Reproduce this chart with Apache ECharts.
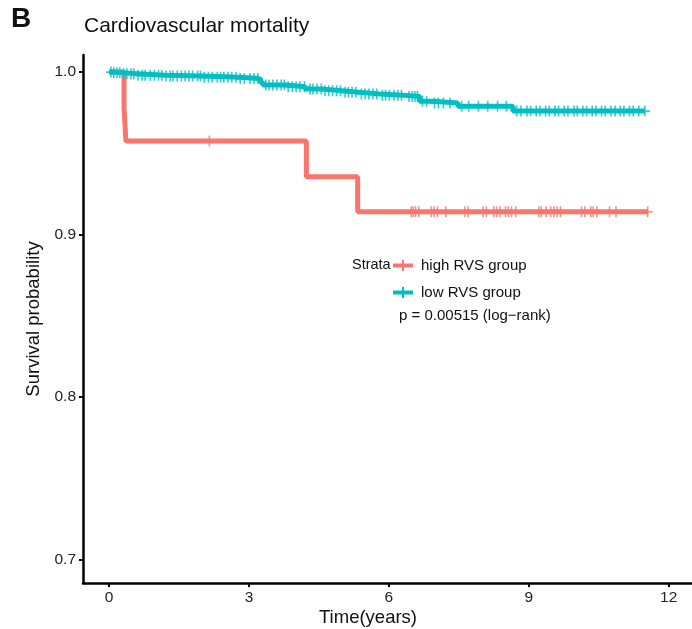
<!DOCTYPE html>
<html>
<head>
<meta charset="utf-8">
<script src="https://cdn.jsdelivr.net/npm/echarts@6/dist/echarts.min.js"></script>
<style>
  html, body { margin: 0; padding: 0; background: #fff; }
  #chart { width: 692px; height: 629px; }
</style>
</head>
<body>
<div id="chart"></div>
<script>
// Kaplan-Meier steps
const highTimes = [0, 0.32, 0.36, 4.23, 5.33, 11.56];
const highSurv = [1.0, 0.978, 0.9575, 0.9355, 0.914, 0.914];
const highCensor = [2.15, 6.48, 6.52, 6.57, 6.64, 6.91, 6.97, 7.04, 7.22, 7.63, 7.70, 8.02, 8.09,
  8.25, 8.31, 8.38, 8.50, 8.56, 8.63, 8.72, 9.22, 9.27, 9.37, 9.47, 9.54, 9.61, 9.68,
  10.13, 10.20, 10.33, 10.38, 10.46, 10.73, 10.87, 11.55];

const lowTimes = [0, 0.1, 0.3, 0.6, 1.2, 2.0, 2.8, 3.2, 3.25, 3.3, 3.8, 4.2, 4.6, 5.0, 5.4, 5.8, 6.3, 6.66, 6.94, 7.48, 8.66, 11.49];
const lowSurv = [1.0, 0.9995, 0.999, 0.998, 0.9975, 0.9968, 0.996, 0.9955, 0.9935, 0.992, 0.991, 0.9895, 0.9885, 0.9875, 0.9865, 0.9858, 0.985, 0.982, 0.981, 0.979, 0.976, 0.976];
const lowCensor = [0.04, 0.1, 0.17, 0.23, 0.31, 0.38, 0.47, 0.53, 0.62, 0.71, 0.77, 0.88, 0.97, 1.06, 1.13, 1.22, 1.31,
  1.37, 1.46, 1.55, 1.63, 1.71, 1.79, 1.9, 1.96, 2.04, 2.13, 2.21, 2.32, 2.39, 2.46, 2.55, 2.63, 2.72, 2.81,
  2.9, 3.02, 3.11, 3.19, 3.36, 3.43, 3.51, 3.6, 3.69, 3.76, 3.84, 3.93, 4.01, 4.09, 4.19, 4.31, 4.37, 4.46,
  4.55, 4.63, 4.71, 4.79, 4.88, 4.96, 5.06, 5.13, 5.21, 5.29, 5.41, 5.49, 5.57, 5.66, 5.74, 5.86, 5.93,
  6.01, 6.11, 6.19, 6.27, 6.43, 6.5, 6.56, 6.61, 6.72, 6.81, 6.98, 7.06, 7.17, 7.31, 7.56, 7.71, 7.92,
  8.12, 8.33, 8.52, 8.74, 8.83, 8.96, 9.04, 9.16, 9.24, 9.36, 9.44, 9.56, 9.64, 9.76, 9.84, 9.97, 10.04,
  10.16, 10.24, 10.36, 10.44, 10.56, 10.64, 10.76, 10.85, 10.96, 11.04, 11.16, 11.24, 11.36, 11.49];

const xTicks = [0, 3, 6, 9, 12];
const yTicks = [0.7, 0.8, 0.9, 1.0];

const RED = '#F8766D';
const TEAL = '#00BFC4';
const PLUS = 'path://M4.2,0H5.8V4.2H10V5.8H5.8V10H4.2V5.8H0V4.2H4.2Z';
// swatch is 20 wide; the speck at x=23 only pads the box so the text sits further right
const LEG = 'path://M0,3.5H20V7.5H0Z M9,0H11V11H9Z M22.9,5H23V5.1H22.9Z';

function levelAt(times, surv, t) {
  let s = surv[0];
  for (let i = 0; i < times.length; i++) if (times[i] <= t) s = surv[i];
  return s;
}
const pairs = (ts, ss) => ts.map((t, i) => [t, ss[i]]);
const marks = (cs, ts, ss) => cs.map(t => [t, levelAt(ts, ss, t)]);

const chart = echarts.init(document.getElementById('chart'));
const font = 'Liberation Sans, Arial, Helvetica, sans-serif';

chart.setOption({
  animation: false,
  textStyle: { fontFamily: font },
  title: {
    text: 'Cardiovascular mortality', left: 79, top: 11,
    textStyle: { fontSize: 21, fontWeight: 'normal', color: '#111', fontFamily: font }
  },
  graphic: [
    { type: 'text', left: 11, top: 5, style: { text: 'B', font: 'bold 28px ' + font, fill: '#111' } },
    { type: 'text', left: 352, top: 257, style: { text: 'Strata', font: '14.5px ' + font, fill: '#111' } },
    { type: 'text', left: 399, top: 308, style: { text: 'p = 0.00515 (log\u2212rank)', font: '15px ' + font, fill: '#111' } },
    { type: 'text', x: 368, y: 618, style: { text: 'Time(years)', font: '18.5px ' + font, fill: '#111', align: 'center', verticalAlign: 'middle' } }
  ],
  legend: {
    orient: 'vertical', left: 388, top: 253, itemWidth: 23, itemHeight: 11, itemGap: 12,
    textStyle: { fontSize: 15, color: '#111', fontFamily: font },
    data: [
      { name: 'high RVS group', icon: LEG },
      { name: 'low RVS group', icon: LEG }
    ]
  },
  grid: { left: 83, top: 55, width: 609, height: 528 },
  xAxis: {
    type: 'value', min: -0.56, max: 12.5,
    axisLine: { onZero: false, lineStyle: { color: '#000', width: 2.5 } },
    axisTick: { customValues: xTicks, length: 4, lineStyle: { color: '#000', width: 2 } },
    axisLabel: { customValues: xTicks, fontSize: 15.5, color: '#222', margin: 7 },
    splitLine: { show: false }
  },
  yAxis: {
    type: 'value', min: 0.6855, max: 1.0105,
    name: 'Survival probability', nameLocation: 'middle', nameGap: 33, nameRotate: 90,
    nameTextStyle: { fontSize: 18.5, color: '#111', fontFamily: font },
    axisLine: { show: true, onZero: false, lineStyle: { color: '#000', width: 2.5 } },
    axisTick: { show: true, customValues: yTicks, length: 4, lineStyle: { color: '#000', width: 2 } },
    axisLabel: { customValues: yTicks, fontSize: 15.5, color: '#222', margin: 7, formatter: v => v.toFixed(1) },
    splitLine: { show: false }
  },
  series: [
    {
      name: 'high RVS group', type: 'line', step: 'end', showSymbol: false, z: 2,
      data: pairs(highTimes, highSurv),
      lineStyle: { color: RED, width: 5 }, itemStyle: { color: RED }
    },
    {
      name: 'high RVS group', type: 'scatter', symbol: PLUS, symbolSize: [10, 11], z: 3,
      data: marks(highCensor, highTimes, highSurv), itemStyle: { color: RED }
    },
    {
      name: 'low RVS group', type: 'line', step: 'end', showSymbol: false, z: 4,
      data: pairs(lowTimes, lowSurv),
      lineStyle: { color: TEAL, width: 5 }, itemStyle: { color: TEAL }
    },
    {
      name: 'low RVS group', type: 'scatter', symbol: PLUS, symbolSize: [10, 11], z: 5,
      data: marks(lowCensor, lowTimes, lowSurv), itemStyle: { color: TEAL }
    }
  ]
});
</script>
</body>
</html>
